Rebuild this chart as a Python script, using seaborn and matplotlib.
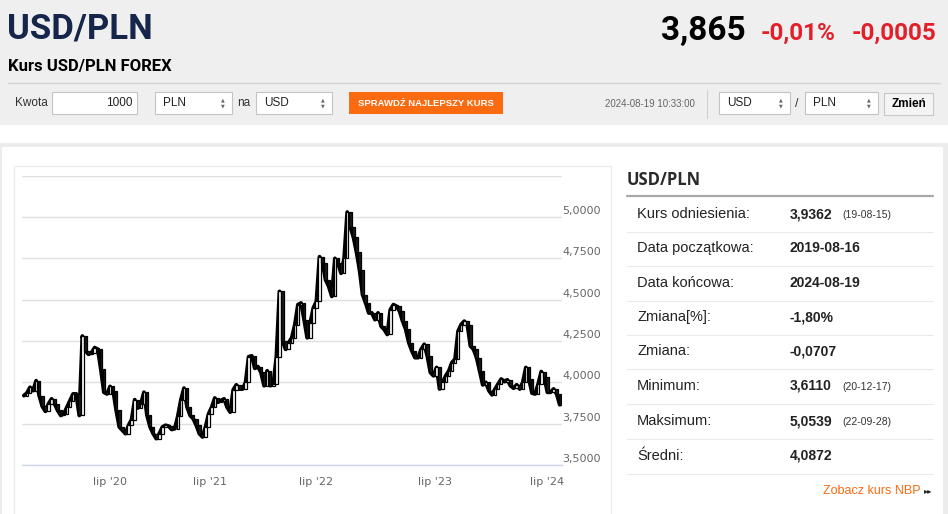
import matplotlib
matplotlib.use("Agg")
import matplotlib.pyplot as plt
from matplotlib.patches import Rectangle
from matplotlib.lines import Line2D
import seaborn as sns
import numpy as np
import pandas as pd

# ---------------------------------------------------------------
# data
# ---------------------------------------------------------------
close = [
    3.92, 3.935, 3.97, 3.95, 4.01, 3.92, 3.855, 3.825, 3.87, 3.90,
    3.87, 3.83, 3.80, 3.81, 3.85, 3.89, 3.93, 3.93, 3.80, 4.28,
    4.19, 4.17, 4.18, 4.21, 4.20, 4.08, 3.94, 3.93, 3.975, 3.95,
    3.83, 3.73, 3.71, 3.69, 3.74, 3.775, 3.895, 3.845, 3.87, 3.94,
    3.80, 3.73, 3.69, 3.66, 3.69, 3.73, 3.74, 3.735, 3.715, 3.72,
    3.795, 3.895, 3.965, 3.85, 3.80, 3.78, 3.74, 3.69, 3.67, 3.73,
    3.81, 3.85, 3.905, 3.88, 3.89, 3.90, 3.85, 3.82, 3.955, 3.985,
    3.96, 3.96, 4.00, 4.155, 4.16, 4.085, 4.095, 4.06, 3.98, 4.07,
    3.98, 3.99, 4.155, 4.55, 4.25, 4.20, 4.24, 4.27, 4.35, 4.47,
    4.48, 4.38, 4.27, 4.36, 4.45, 4.49, 4.76, 4.72, 4.62, 4.58,
    4.52, 4.75, 4.72, 4.66, 4.75, 5.03, 4.94, 4.88, 4.79, 4.68,
    4.53, 4.48, 4.42, 4.42, 4.38, 4.42, 4.34, 4.32, 4.29, 4.44,
    4.47, 4.46, 4.43, 4.37, 4.32, 4.24, 4.19, 4.15, 4.15, 4.20,
    4.23, 4.16, 4.06, 4.04, 4.09, 3.96, 4.00, 4.04, 4.07, 4.12,
    4.14, 4.31, 4.35, 4.37, 4.35, 4.22, 4.20, 4.15, 4.07, 3.985,
    4.00, 3.95, 3.925, 3.96, 3.99, 4.02, 4.005, 4.015, 3.98, 3.965,
    3.985, 3.96, 4.00, 4.09, 4.02, 3.935, 3.93, 3.99, 4.065, 4.03,
    3.94, 3.94, 3.96, 3.93, 3.865,
]

tick_pos = [28, 60.5, 95, 133.5, 170]
tick_labels = ["lip '20", "lip '21", "lip '22", "lip '23", "lip '24"]

y_levels = [3.5, 3.75, 4.0, 4.25, 4.5, 4.75, 5.0, 5.25]

stat_labels = ["Kurs odniesienia:", "Data początkowa:", "Data końcowa:", "Zmiana[%]:",
               "Zmiana:", "Minimum:", "Maksimum:", "Średni:"]
stat_values = ["3,9362", "2019-08-16", "2024-08-19", "-1,80%",
               "-0,0707", "3,6110", "5,0539", "4,0872"]
stat_notes = ["(19-08-15)", "", "", "", "", "(20-12-17)", "(22-09-28)", ""]

last_rate = "3,865"
change_pct = "-0,01%"
change_abs = "-0,0005"

# ---------------------------------------------------------------
# page helpers (pixel coordinates, origin top-left)
# ---------------------------------------------------------------
W, H = 948, 514
sns.set_theme(style="white")
plt.rcParams["font.family"] = ["Liberation Sans", "DejaVu Sans"]

fig = plt.figure(figsize=(W / 100, H / 100), dpi=100)
fig.patch.set_facecolor("white")


def fx(px):
    return px / W


def fy(py):
    return 1 - py / H


def box(x0, y0, x1, y1, fc="white", ec="none", lw=1.0, z=0):
    fig.add_artist(Rectangle((fx(x0), fy(y1)), fx(x1) - fx(x0), fy(y0) - fy(y1),
                             transform=fig.transFigure, facecolor=fc, edgecolor=ec,
                             linewidth=lw, zorder=z))


def hline(x0, x1, y, color, lw=1.0):
    fig.add_artist(Line2D([fx(x0), fx(x1)], [fy(y), fy(y)], transform=fig.transFigure,
                          color=color, linewidth=lw))


def vline(x, y0, y1, color, lw=1.0):
    fig.add_artist(Line2D([fx(x), fx(x)], [fy(y0), fy(y1)], transform=fig.transFigure,
                          color=color, linewidth=lw))


def select(x0, x1, label):
    box(x0, 92, x1, 114, fc="white", ec="#c4c4c4", lw=0.8)
    fig.text(fx(x0 + 8), fy(103), label, fontsize=8.5, color="#222222", va="center")
    fig.text(fx(x1 - 9), fy(100), "▲", fontsize=3.5, color="#666666", ha="center", va="center",
             family="DejaVu Sans")
    fig.text(fx(x1 - 9), fy(106), "▼", fontsize=3.5, color="#666666", ha="center", va="center",
             family="DejaVu Sans")


# ---------------------------------------------------------------
# header
# ---------------------------------------------------------------
box(0, 0, W, 125, fc="#efefef")
box(0, 143, W, 147, fc="#ececec")
box(0, 147, 2, H, fc="#ececec")
box(943, 147, W, H, fc="#ececec")

fig.text(fx(7), fy(29), "USD/PLN", fontsize=25, color="#16264a", fontweight="bold",
         va="center", family="Roboto")
fig.text(fx(746), fy(31), last_rate, fontsize=24, color="black", fontweight="bold",
         ha="right", va="center", family="Roboto")
fig.text(fx(761), fy(33), change_pct, fontsize=17.5, color="#e3202a", fontweight="bold",
         va="center", family="Roboto")
fig.text(fx(852), fy(33), change_abs, fontsize=17.5, color="#e3202a", fontweight="bold",
         va="center", family="Roboto")
fig.text(fx(8), fy(67), "Kurs USD/PLN FOREX", fontsize=12, color="black", fontweight="bold",
         va="center", family="Roboto")
hline(8, 940, 83, "#d4d4d4", 1.0)

# toolbar
fig.text(fx(15), fy(103), "Kwota", fontsize=8.5, color="#333333", va="center")
box(52, 92, 137, 114, fc="white", ec="#c4c4c4", lw=0.8)
fig.text(fx(133), fy(103), "1000", fontsize=8.5, color="#222222", ha="right", va="center")
select(155, 232, "PLN")
fig.text(fx(237), fy(103), "na", fontsize=8.5, color="#333333", va="center")
select(256, 332, "USD")
box(349, 92, 503, 114, fc="#fa6a10")
fig.text(fx(426), fy(103), "SPRAWDŹ NAJLEPSZY KURS", fontsize=6.8, color="white",
         fontweight="bold", ha="center", va="center")
fig.text(fx(695), fy(104), "2024-08-19 10:33:00", fontsize=7, color="#666666",
         ha="right", va="center")
vline(707, 90, 118, "#d0d0d0", 0.8)
select(719, 790, "USD")
fig.text(fx(797), fy(104), "/", fontsize=9, color="#333333", ha="center", va="center")
select(805, 878, "PLN")
box(884, 93, 933, 115, fc="#f4f4f4", ec="#c8c8c8", lw=0.8)
fig.text(fx(908.5), fy(104), "Zmień", fontsize=8.5, color="black", fontweight="bold",
         ha="center", va="center")

# chart frame
box(14, 166, 611, H + 5, fc="white", ec="#ececec", lw=1.0)

# ---------------------------------------------------------------
# candlestick chart
# ---------------------------------------------------------------
ax = fig.add_axes([fx(22), fy(465), fx(561.6) - fx(22), fy(175.5) - fy(465)])
ax.set_facecolor("white")

df = pd.DataFrame({"idx": np.arange(len(close)), "close": close})
df["open"] = df["close"].shift(1).fillna(df["close"].iloc[0])
df["up"] = df["close"] >= df["open"]

sns.lineplot(data=df, x="idx", y="close", color="black", linewidth=2.8, ax=ax, zorder=3)
ax.bar(df["idx"], df["close"] - df["open"], bottom=df["open"], width=0.8,
       color=np.where(df["up"], "white", "#1a1a1a"), edgecolor="black", linewidth=0.9, zorder=4)

ax.set_xlim(-0.6, len(close) - 0.4)
ax.set_ylim(3.5, 5.2515)
ax.set_yticks(y_levels)
ax.set_yticklabels([])
ax.tick_params(axis="y", length=0)
ax.grid(axis="y", color="#e0e0e0", linewidth=1.0, zorder=0)
ax.grid(axis="x", visible=False)
for s in ["top", "left", "right"]:
    ax.spines[s].set_visible(False)
ax.spines["bottom"].set_color("#ccd6eb")
ax.spines["bottom"].set_linewidth(1.0)
ax.set_xticks(tick_pos)
ax.set_xticklabels(tick_labels)
ax.tick_params(axis="x", length=7, width=0.8, color="#ccd6eb", pad=1.5,
               labelsize=8, labelcolor="#666666")
for lab in ax.get_xticklabels():
    lab.set_family("DejaVu Sans")
ax.set_xlabel("")
ax.set_ylabel("")

for v in y_levels[:-1]:
    ax.annotate(f"{v:.4f}".replace(".", ","), xy=(1.0, v), xycoords=("axes fraction", "data"),
                xytext=(1, 6), textcoords="offset pixels", fontsize=8, color="#666666",
                family="DejaVu Sans", ha="left", va="center", annotation_clip=False)

# ---------------------------------------------------------------
# statistics panel
# ---------------------------------------------------------------
fig.text(fx(627), fy(180), "USD/PLN", fontsize=12, color="#2a2a2a", fontweight="bold",
         va="center", family="Open Sans")
hline(627, 933, 196, "#a8a8a8", 1.6)
row_y = [214, 248, 283, 317, 351, 386, 421, 456]
for i, (lab, val, note) in enumerate(zip(stat_labels, stat_values, stat_notes)):
    yy = row_y[i]
    fig.text(fx(637), fy(yy), lab, fontsize=10.5, color="#222222", va="center")
    fig.text(fx(790), fy(yy), val, fontsize=10, color="#222222", fontweight="bold",
             va="center")
    if note:
        fig.text(fx(842), fy(yy + 1), note, fontsize=7.5, color="#333333", va="center")
    hline(627, 933, yy + 17.5, "#eaeaea", 0.8)

fig.text(fx(921), fy(491), "Zobacz kurs NBP", fontsize=9, color="#fa6a10", ha="right",
         va="center")
fig.text(fx(924), fy(491), "▸▸", fontsize=6, color="#222222", va="center",
         family="DejaVu Sans")

fig.savefig("out.png", dpi=100)
